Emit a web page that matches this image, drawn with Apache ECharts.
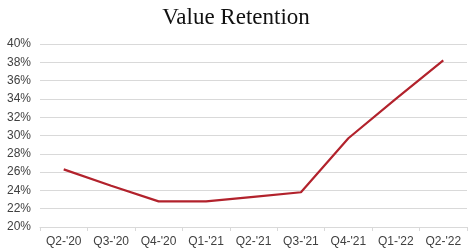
<!DOCTYPE html>
<html><head><meta charset="utf-8">
<script src="https://cdn.jsdelivr.net/npm/echarts@6/dist/echarts.min.js"></script>
<style>html,body{margin:0;padding:0;background:#fff}#c{width:472px;height:250px}</style>
</head><body><div id="c"></div>
<script>
var categories = ["Q2-'20","Q3-'20","Q4-'20","Q1-'21","Q2-'21","Q3-'21","Q4-'21","Q1-'22","Q2-'22"];
var retention = [26.3, 24.5, 22.8, 22.8, 23.3, 23.8, 29.7, 34.0, 38.2];
var chart = echarts.init(document.getElementById('c'), null, {renderer:'canvas'});
chart.setOption({
  animation:false,
  title:{text:'Value Retention', left:'center', top:1,
    textStyle:{fontFamily:'Liberation Serif', fontSize:23, fontWeight:'normal', color:'#111'}},
  grid:{left:40, right:5, top:44, bottom:23},
  xAxis:{type:'category', data:categories, boundaryGap:true,
    axisLine:{lineStyle:{color:'#d9d9d9'}},
    axisTick:{show:true, length:4, lineStyle:{color:'#d9d9d9'}},
    axisLabel:{color:'#404040', fontFamily:'Liberation Sans', fontSize:12, margin:9}},
  yAxis:{type:'value', min:20, max:40, interval:2,
    axisLine:{show:false}, axisTick:{show:false},
    splitLine:{lineStyle:{color:'#d9d9d9'}},
    axisLabel:{formatter:'{value}%', color:'#404040', fontFamily:'Liberation Sans', fontSize:12, margin:9}},
  series:[{type:'line', data:retention, symbol:'none',
    lineStyle:{color:'#b2222c', width:2.2}}]
});
</script></body></html>
